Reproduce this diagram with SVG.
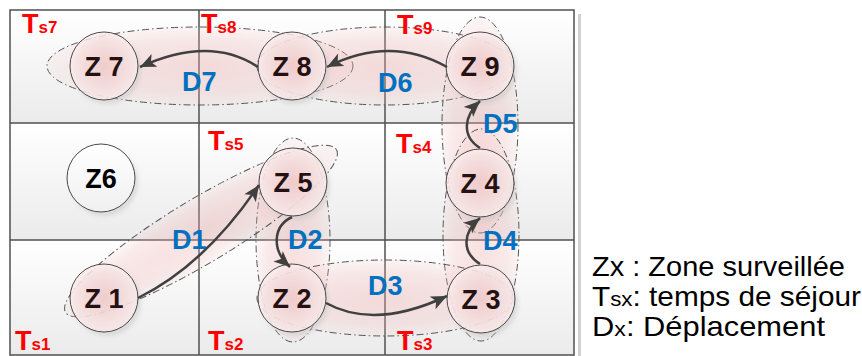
<svg xmlns="http://www.w3.org/2000/svg" width="862" height="356" viewBox="0 0 862 356">
<defs>
<linearGradient id="cellg" x1="0" y1="0" x2="0" y2="1">
<stop offset="0" stop-color="#ffffff"/>
<stop offset="1" stop-color="#ebebeb"/>
</linearGradient>
<radialGradient id="pinkg" cx="0.5" cy="0.5" r="0.5">
<stop offset="0" stop-color="#f0a8a8" stop-opacity="0.36"/>
<stop offset="0.7" stop-color="#f2b4b4" stop-opacity="0.26"/>
<stop offset="1" stop-color="#f5c8c8" stop-opacity="0.15"/>
</radialGradient>
<radialGradient id="nodeg" cx="0.5" cy="0.5" r="0.5">
<stop offset="0" stop-color="#f5caca"/>
<stop offset="1" stop-color="#fcecec"/>
</radialGradient>
<linearGradient id="whiteg" x1="0" y1="0" x2="0" y2="1">
<stop offset="0" stop-color="#ffffff"/>
<stop offset="1" stop-color="#f0f0f0"/>
</linearGradient>
<filter id="sh" x="-30%" y="-30%" width="160%" height="160%">
<feGaussianBlur stdDeviation="2"/>
</filter>
<marker id="ah" markerUnits="userSpaceOnUse" markerWidth="18" markerHeight="16" refX="16" refY="7" orient="auto">
<path d="M0,0 L16,7 L0,14 L4,7 Z" fill="#404040"/>
</marker>
</defs>
<style>
.cell{fill:url(#cellg);stroke:none}
.grid{fill:none;stroke:#505050;stroke-width:1.5}
.zone{fill:url(#pinkg);stroke:#555;stroke-width:1;stroke-dasharray:7 3 1.5 3}
.nc{fill:url(#nodeg);fill-opacity:0.82;stroke:#4a4a4a;stroke-width:1}
.nw{fill:url(#whiteg);stroke:#4a4a4a;stroke-width:1}
.shd{fill:#c4c4c4;opacity:0.5;filter:url(#sh)}
.nt{font-family:"Liberation Sans",Arial,sans-serif;font-weight:bold;font-size:27px;fill:#241212;text-anchor:middle}
.arr{fill:none;stroke:#404040;stroke-width:2.5;marker-end:url(#ah)}
.dl{font-family:"Liberation Sans",Arial,sans-serif;font-weight:bold;font-size:27px;fill:#0070c0}
.ts{font-family:"Liberation Sans",Arial,sans-serif;font-weight:bold;font-size:27px;fill:#ff0000}
.sub{font-size:17px}
.lg{font-family:"Liberation Sans",Arial,sans-serif;font-size:28px;fill:#000}
.lsub{font-size:21px}
</style>

<g id="grid">
<rect x="578" y="14" width="3" height="342" fill="#d0d0d0"/>
<rect class="cell" x="10" y="10" width="189" height="113"/>
<rect class="cell" x="199" y="10" width="186" height="113"/>
<rect class="cell" x="385" y="10" width="189" height="113"/>
<rect class="cell" x="10" y="123" width="189" height="117"/>
<rect class="cell" x="199" y="123" width="186" height="117"/>
<rect class="cell" x="385" y="123" width="189" height="117"/>
<rect class="cell" x="10" y="240" width="189" height="115"/>
<rect class="cell" x="199" y="240" width="186" height="115"/>
<rect class="cell" x="385" y="240" width="189" height="115"/>
<rect class="grid" x="10" y="10" width="564" height="345"/>
<path class="grid" d="M199,10 V355 M385,10 V355 M10,123 H574 M10,240 H574"/>
</g>

<g id="zones">
<ellipse class="zone" cx="200" cy="66" rx="153" ry="39"/>
<ellipse class="zone" cx="385" cy="66" rx="128" ry="39"/>
<ellipse class="zone" cx="480" cy="125" rx="38" ry="108"/>
<ellipse class="zone" cx="481" cy="235" rx="38" ry="106"/>
<ellipse class="zone" cx="293" cy="240" rx="37" ry="102"/>
<ellipse class="zone" cx="201" cy="231" rx="158" ry="32" transform="rotate(-31 201 231)"/>
<ellipse class="zone" cx="385" cy="298" rx="128" ry="38"/>
</g>

<g id="node-z7"><circle class="shd" cx="107" cy="70" r="34"/><circle class="nc" cx="104" cy="66" r="34"/><text class="nt" x="104" y="76">Z 7</text></g>
<g id="node-z8"><circle class="shd" cx="295" cy="70" r="34"/><circle class="nc" cx="292" cy="66" r="34"/><text class="nt" x="292" y="76">Z 8</text></g>
<g id="node-z9"><circle class="shd" cx="483" cy="70" r="34"/><circle class="nc" cx="480" cy="66" r="34"/><text class="nt" x="480" y="76">Z 9</text></g>
<g id="node-z6"><circle class="shd" cx="104" cy="182" r="34"/><circle class="nw" cx="101" cy="178" r="34"/><text class="nt" x="101" y="188" style="fill:#000">Z6</text></g>
<g id="node-z5"><circle class="shd" cx="296" cy="186" r="34"/><circle class="nc" cx="293" cy="182" r="34"/><text class="nt" x="293" y="192">Z 5</text></g>
<g id="node-z4"><circle class="shd" cx="483" cy="187" r="34"/><circle class="nc" cx="480" cy="183" r="34"/><text class="nt" x="480" y="193">Z 4</text></g>
<g id="node-z1"><circle class="shd" cx="107" cy="302" r="34"/><circle class="nc" cx="104" cy="298" r="34"/><text class="nt" x="104" y="308">Z 1</text></g>
<g id="node-z2"><circle class="shd" cx="295" cy="302" r="34"/><circle class="nc" cx="292" cy="298" r="34"/><text class="nt" x="292" y="308">Z 2</text></g>
<g id="node-z3"><circle class="shd" cx="484" cy="303" r="34"/><circle class="nc" cx="481" cy="299" r="34"/><text class="nt" x="481" y="309">Z 3</text></g>

<g id="connectors">
<path class="arr" d="M258,67 Q210,35 140,67"/>
<path class="arr" d="M447,67 Q390,35 327,67"/>
<path class="arr" d="M138,298 Q205,265 259,185"/>
<path class="arr" d="M292,217 C273,226 271,250 290,267"/>
<path class="arr" d="M326,303 Q375,330 447,296"/>
<path class="arr" d="M480,264 C461,252 463,232 480,218"/>
<path class="arr" d="M480,148 C461,136 464,116 480,101"/>
</g>

<g id="edge-labels">
<text class="dl" x="182" y="91">D7</text>
<text class="dl" x="378" y="92">D6</text>
<text class="dl" x="483" y="133">D5</text>
<text class="dl" x="483" y="250">D4</text>
<text class="dl" x="172" y="249">D1</text>
<text class="dl" x="288" y="249">D2</text>
<text class="dl" x="368" y="295">D3</text>
</g>

<g id="stay-labels">
<text class="ts" x="22" y="33">T<tspan class="sub">s7</tspan></text>
<text class="ts" x="201" y="33">T<tspan class="sub">s8</tspan></text>
<text class="ts" x="397" y="34">T<tspan class="sub">s9</tspan></text>
<text class="ts" x="208" y="150">T<tspan class="sub">s5</tspan></text>
<text class="ts" x="396" y="153">T<tspan class="sub">s4</tspan></text>
<text class="ts" x="15" y="350">T<tspan class="sub">s1</tspan></text>
<text class="ts" x="208" y="350">T<tspan class="sub">s2</tspan></text>
<text class="ts" x="397" y="350">T<tspan class="sub">s3</tspan></text>
</g>

<g id="legend">
<text class="lg" x="592" y="276" textLength="253" lengthAdjust="spacingAndGlyphs">Zx : Zone surveillée</text>
<text class="lg" x="592" y="306" textLength="269" lengthAdjust="spacingAndGlyphs">T<tspan class="lsub">sx</tspan>: temps de séjour</text>
<text class="lg" x="592" y="336" textLength="233" lengthAdjust="spacingAndGlyphs">D<tspan class="lsub">x</tspan>: Déplacement</text>
</g>
</svg>
